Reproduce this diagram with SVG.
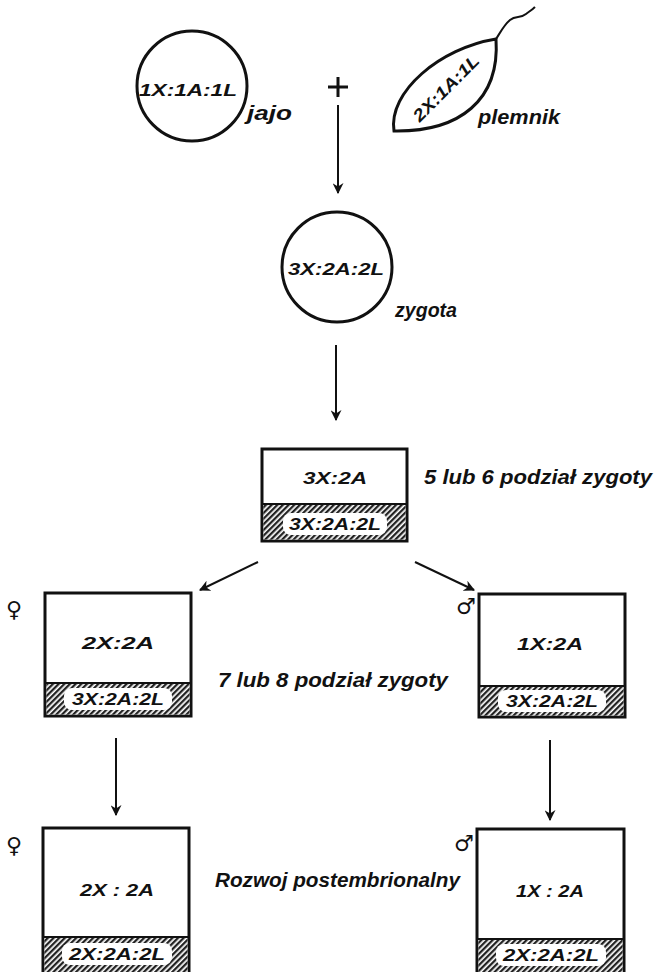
<svg xmlns="http://www.w3.org/2000/svg" width="658" height="972" viewBox="0 0 658 972">
<defs>
<style>
.t{font-family:"Liberation Sans","DejaVu Sans",sans-serif;font-style:italic;font-weight:bold;fill:#111;}
.lbl{font-size:20px;}
.in{font-size:17px;text-anchor:middle;}
.sh{stroke:#111;stroke-width:3;fill:#fff;}
.ln{stroke:#111;stroke-width:2;fill:none;}
.sym{font-family:"DejaVu Sans",sans-serif;font-size:22px;font-weight:bold;fill:#111;}
</style>
<pattern id="hatch" patternUnits="userSpaceOnUse" width="4" height="4" patternTransform="rotate(45)">
<rect width="4" height="4" fill="#fff"/>
<rect width="2.3" height="4" fill="#222"/>
</pattern>
<marker id="ah" viewBox="0 0 10 10" refX="9" refY="5" markerWidth="11" markerHeight="11" markerUnits="userSpaceOnUse" orient="auto">
<path d="M0,0 L10,5 L0,10 L3,5 Z" fill="#111"/>
</marker>
</defs>
<rect width="658" height="972" fill="#fff"/>

<g id="jajo">
<circle cx="192" cy="86" r="55" class="sh"/>
<text class="t in" x="188" y="96" textLength="98" lengthAdjust="spacingAndGlyphs">1X:1A:1L</text>
<text class="t lbl" x="247" y="120" textLength="45" lengthAdjust="spacingAndGlyphs">jajo</text>
</g>

<g id="plus">
<path d="M328,87 H348 M338,77 V97" stroke="#111" stroke-width="3" fill="none"/>
</g>

<g id="plemnik">
<path d="M394,131 C388,92 440,48 496,39 C500,100 460,132 394,131 Z" class="sh"/>
<path d="M496,39 C500,33 504,25 510,20 C516,15 520,19 526,14 C530,11 533,9 535,7" class="ln"/>
<text class="t in" transform="translate(446,88) rotate(-45)" x="0" y="6" font-size="16" textLength="86" lengthAdjust="spacingAndGlyphs">2X:1A:1L</text>
<text class="t lbl" x="478" y="124" textLength="82" lengthAdjust="spacingAndGlyphs">plemnik</text>
</g>

<g id="zygota">
<circle cx="337" cy="267" r="55" class="sh"/>
<text class="t in" x="336" y="275" textLength="96" lengthAdjust="spacingAndGlyphs">3X:2A:2L</text>
<text class="t lbl" x="395" y="317" textLength="62" lengthAdjust="spacingAndGlyphs">zygota</text>
</g>

<g id="box1">
<rect x="262" y="449" width="145" height="92" class="sh"/>
<rect x="263.5" y="504" width="142" height="35.5" fill="url(#hatch)"/>
<line x1="262" y1="504" x2="407" y2="504" stroke="#111" stroke-width="2"/>
<rect x="283" y="513" width="104" height="22" rx="8" fill="#fff"/>
<text class="t in" x="335" y="484" textLength="64" lengthAdjust="spacingAndGlyphs">3X:2A</text>
<text class="t in" x="335" y="530" textLength="92" lengthAdjust="spacingAndGlyphs">3X:2A:2L</text>
<text class="t lbl" x="424" y="484" textLength="228" lengthAdjust="spacingAndGlyphs">5 lub 6 podział zygoty</text>
</g>

<g id="female1">
<rect x="45" y="593" width="146" height="123" class="sh"/>
<rect x="46.5" y="683" width="143" height="31.5" fill="url(#hatch)"/>
<line x1="45" y1="683" x2="191" y2="683" stroke="#111" stroke-width="2"/>
<rect x="64" y="688" width="108" height="22" rx="8" fill="#fff"/>
<text class="t in" x="118" y="649" textLength="72" lengthAdjust="spacingAndGlyphs">2X:2A</text>
<text class="t in" x="118" y="705" textLength="92" lengthAdjust="spacingAndGlyphs">3X:2A:2L</text>
<text class="sym" x="6" y="617">♀</text>
</g>

<g id="male1">
<rect x="479" y="594" width="146" height="123" class="sh"/>
<rect x="480.5" y="686" width="143" height="29.5" fill="url(#hatch)"/>
<line x1="479" y1="686" x2="625" y2="686" stroke="#111" stroke-width="2"/>
<rect x="498" y="690" width="108" height="22" rx="8" fill="#fff"/>
<text class="t in" x="550" y="650" textLength="66" lengthAdjust="spacingAndGlyphs">1X:2A</text>
<text class="t in" x="552" y="707" textLength="92" lengthAdjust="spacingAndGlyphs">3X:2A:2L</text>
<text class="sym" x="456" y="614">♂</text>
</g>

<text class="t lbl" x="218" y="687" textLength="230" lengthAdjust="spacingAndGlyphs">7 lub 8 podział zygoty</text>

<g id="female2">
<rect x="43" y="828" width="146" height="150" class="sh"/>
<rect x="44.5" y="937" width="143" height="40" fill="url(#hatch)"/>
<line x1="43" y1="937" x2="189" y2="937" stroke="#111" stroke-width="2"/>
<rect x="62" y="943" width="110" height="22" rx="8" fill="#fff"/>
<text class="t in" x="117" y="896" textLength="74" lengthAdjust="spacingAndGlyphs">2X : 2A</text>
<text class="t in" x="117" y="960" textLength="96" lengthAdjust="spacingAndGlyphs">2X:2A:2L</text>
<text class="sym" x="6" y="853">♀</text>
</g>

<g id="male2">
<rect x="477" y="829" width="147" height="150" class="sh"/>
<rect x="478.5" y="939" width="144" height="40" fill="url(#hatch)"/>
<line x1="477" y1="939" x2="624" y2="939" stroke="#111" stroke-width="2"/>
<rect x="496" y="944" width="110" height="22" rx="8" fill="#fff"/>
<text class="t in" x="550" y="897" textLength="68" lengthAdjust="spacingAndGlyphs">1X : 2A</text>
<text class="t in" x="551" y="961" textLength="96" lengthAdjust="spacingAndGlyphs">2X:2A:2L</text>
<text class="sym" x="454" y="851">♂</text>
</g>

<text class="t lbl" x="215" y="887" textLength="245" lengthAdjust="spacingAndGlyphs">Rozwoj postembrionalny</text>

<g id="connectors">
<line x1="338" y1="105" x2="338" y2="193" class="ln" marker-end="url(#ah)"/>
<line x1="336" y1="345" x2="336" y2="420" class="ln" marker-end="url(#ah)"/>
<line x1="258" y1="562" x2="200" y2="590" class="ln" marker-end="url(#ah)"/>
<line x1="415" y1="562" x2="474" y2="590" class="ln" marker-end="url(#ah)"/>
<line x1="116" y1="738" x2="116" y2="815" class="ln" marker-end="url(#ah)"/>
<line x1="550" y1="740" x2="550" y2="820" class="ln" marker-end="url(#ah)"/>
</g>
</svg>
